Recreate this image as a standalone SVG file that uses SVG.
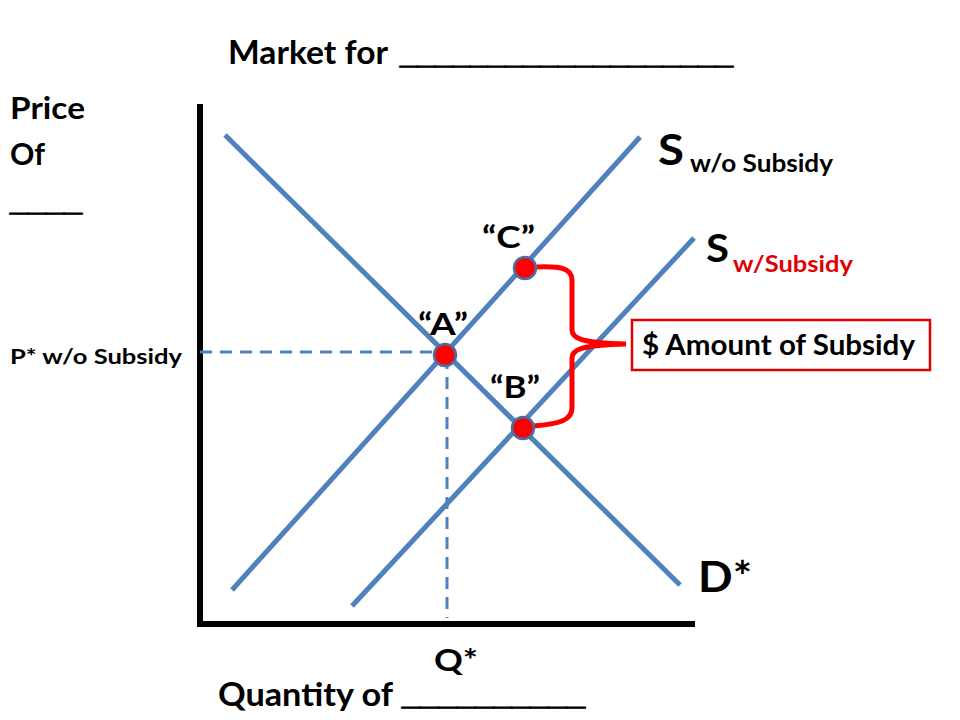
<svg xmlns="http://www.w3.org/2000/svg" width="960" height="720" viewBox="0 0 960 720">
<style>
text{font-family:"Lato","Open Sans","Liberation Sans",sans-serif;font-weight:bold;fill:#000}
text.us{font-family:"Liberation Sans","Arial",sans-serif;stroke:#000;stroke-width:1.2}
.curve{stroke:#4F81BD;stroke-width:5;fill:none}
.dash{stroke:#4F81BD;stroke-width:3;stroke-dasharray:12 8;fill:none}
.axis{stroke:#000;stroke-width:6;fill:none}
.pt{fill:#FF0000;stroke:#4A6FA5;stroke-width:2.5}
.red{fill:#E00000}
</style>
<rect width="960" height="720" fill="#fff"/>
<g id="title">
<text x="228" y="64" font-size="32" textLength="160" lengthAdjust="spacingAndGlyphs">Market for</text>
<text class="us" x="400" y="64" font-size="30" textLength="333" lengthAdjust="spacingAndGlyphs">___________________</text>
</g>
<g id="ylabel">
<text x="10" y="119" font-size="31" textLength="75" lengthAdjust="spacingAndGlyphs">Price</text>
<text x="10" y="165" font-size="31" textLength="35" lengthAdjust="spacingAndGlyphs">Of</text>
<text class="us" x="10" y="211" font-size="30" textLength="72" lengthAdjust="spacingAndGlyphs">____</text>
</g>
<g id="axes">
<line class="axis" x1="200" y1="104" x2="200" y2="627"/>
<line class="axis" x1="197" y1="624" x2="695" y2="624"/>
</g>
<g id="connectors">
<line class="dash" x1="200" y1="352" x2="445" y2="352"/>
<line class="dash" x1="447" y1="357" x2="447" y2="618"/>
<line class="curve" x1="225" y1="135" x2="680" y2="585"/>
<line class="curve" x1="232" y1="590" x2="640" y2="137"/>
<line class="curve" x1="352" y1="606" x2="694" y2="238"/>
<path d="M537 267 C560 266 572 268 572 280 L572 330 C572 338 580 343 626 344 C580 345 572 350 572 358 L572 408 C572 420 560 424 533 426" fill="none" stroke="#FF0000" stroke-width="5"/>
</g>
<g id="pointA"><circle class="pt" cx="445" cy="355" r="11"/><text x="418" y="335" font-size="30" textLength="50" lengthAdjust="spacingAndGlyphs">“A”</text></g>
<g id="pointC"><circle class="pt" cx="525" cy="268" r="11"/><text x="482" y="248" font-size="30" textLength="53" lengthAdjust="spacingAndGlyphs">“C”</text></g>
<g id="pointB"><circle class="pt" cx="523" cy="428" r="11"/><text x="490" y="398" font-size="30" textLength="50" lengthAdjust="spacingAndGlyphs">“B”</text></g>
<g id="subsidyBox">
<rect x="632" y="320" width="298" height="50" fill="#fff" stroke="#E00000" stroke-width="2.5"/>
<text x="642" y="355" font-size="28" textLength="273" lengthAdjust="spacingAndGlyphs">$ Amount of Subsidy</text>
</g>
<g id="labelS1"><text x="658" y="165" font-size="42" textLength="26" lengthAdjust="spacingAndGlyphs">S</text><text x="690" y="172" font-size="24" textLength="143" lengthAdjust="spacingAndGlyphs">w/o Subsidy</text></g>
<g id="labelS2"><text x="706" y="262" font-size="38" textLength="23" lengthAdjust="spacingAndGlyphs">S</text><text x="733" y="272" font-size="23" class="red" textLength="120" lengthAdjust="spacingAndGlyphs">w/Subsidy</text></g>
<g id="labelD"><text x="698" y="592" font-size="42" textLength="54" lengthAdjust="spacingAndGlyphs">D*</text></g>
<g id="pstar"><text x="10" y="364" font-size="21" textLength="172" lengthAdjust="spacingAndGlyphs">P* w/o Subsidy</text></g>
<g id="qstar"><text x="434" y="671" font-size="30" textLength="44" lengthAdjust="spacingAndGlyphs">Q*</text></g>
<g id="xlabel">
<text x="218" y="706" font-size="32" textLength="175" lengthAdjust="spacingAndGlyphs">Quantity of</text>
<text class="us" x="402" y="705" font-size="30" textLength="183" lengthAdjust="spacingAndGlyphs">__________</text>
</g>
</svg>
